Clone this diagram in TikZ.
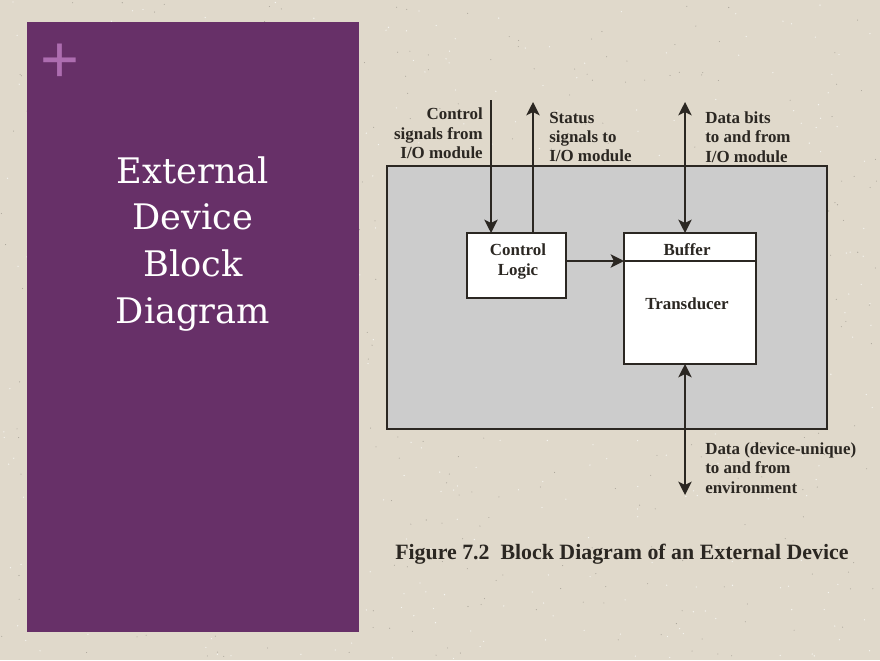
\documentclass[tikz,border=0pt]{standalone}
\usepackage{fontspec}
\setmainfont{Liberation Serif}
\newfontfamily\slabfont{DejaVu Serif}
\newfontfamily\plainfont{Liberation Sans}
\usetikzlibrary{arrows.meta,positioning}
\definecolor{paper}{HTML}{E0D9CB}
\definecolor{panel}{HTML}{673068}
\definecolor{plusmark}{HTML}{AD6DB0}
\definecolor{ink}{HTML}{2B2722}
\definecolor{device}{HTML}{CCCCCC}
\tikzset{x=0.75pt, y=-0.75pt,
         block/.style={ % Sets the properties for each box
           draw=ink,
           line width=1.7pt,
           fill=white,
           outer sep=0pt,
           inner sep=0pt},
         wire/.style={ % Sets the properties for each connector
           draw=ink,
           line width=1.7pt,
           >={Stealth[length=10pt,width=10pt,inset=2.5pt]}},
         tag/.style={ % Sets the properties for each label
           text=ink,
           inner sep=0pt,
           font=\fontsize{12.7}{14.6}\selectfont\bfseries}}

\begin{document}
\begin{tikzpicture}
\fill[paper] (0,0) rectangle (880,660);
\pgfmathsetseed{72}
\foreach \i in {1,...,450} {
  \fill[white!75!paper] ({440+440*rand},{330+330*rand}) circle (0.5pt);
  \fill[black!25!paper] ({440+440*rand},{330+330*rand}) circle (0.4pt);
}

% left panel
\fill[panel] (27,22) rectangle (359,632);
\node[text=plusmark, inner sep=0pt, font=\plainfont\fontsize{50}{50}\selectfont] (plus) at (59.5,63) {+};
\node[text=white, align=center, inner sep=0pt, font=\slabfont\fontsize{26.4}{35.2}\selectfont] (title) at (193,244)
  {External\\Device\\Block\\Diagram};

% boxes
\node[block, fill=device, minimum width=330pt, minimum height=197.25pt] (dev) at (607,297.5) {};
\node[block, minimum width=74.25pt, minimum height=48.75pt] (ctrl) at (516.5,265.5) {};
\node[block, minimum width=99pt, minimum height=21pt] (buffer) at (690,247) {};
\node[block, minimum width=99pt, minimum height=77.25pt, below=0pt of buffer] (trans) {};

% texts of the boxes
\node[tag, align=center] (ctrltext) at (518,261.5) {Control\\Logic};
\node[tag] (buffertext) at (687,250) {Buffer};
\node[tag] (transtext) at (687,304) {Transducer};

% free ends
\coordinate (ctrlin) at (491,100);
\coordinate (statout) at (533,102);
\coordinate (dataup) at (685,102);
\coordinate (datadown) at (685,495);

% connectors
\draw[wire,->] (ctrlin) -- (ctrlin |- ctrl.north);
\draw[wire,->] (statout |- ctrl.north) -- (statout);
\draw[wire,<->] (dataup |- buffer.north) -- (dataup);
\draw[wire,<->] (datadown |- trans.south) -- (datadown);
\draw[wire,->] (ctrl.east |- buffer.south) -- (trans.north west);

% labels
\node[tag, align=right, anchor=east] (ctrllabel) at (483,133.5) {Control\\signals from\\I/O module};
\node[tag, align=left, anchor=west] (statlabel) at (549,137) {Status\\signals to\\I/O module};
\node[tag, align=left, anchor=west] (datalabel) at (705,137) {Data bits\\to and from\\I/O module};
\node[tag, align=left, anchor=west] (envlabel) at (705,468) {Data (device-unique)\\to and from\\environment};
\node[tag, anchor=west, font=\fontsize{16.4}{18}\selectfont\bfseries] (caption) at (395,554) {Figure 7.2\ \ Block Diagram of an External Device};
\end{tikzpicture}
\end{document}
